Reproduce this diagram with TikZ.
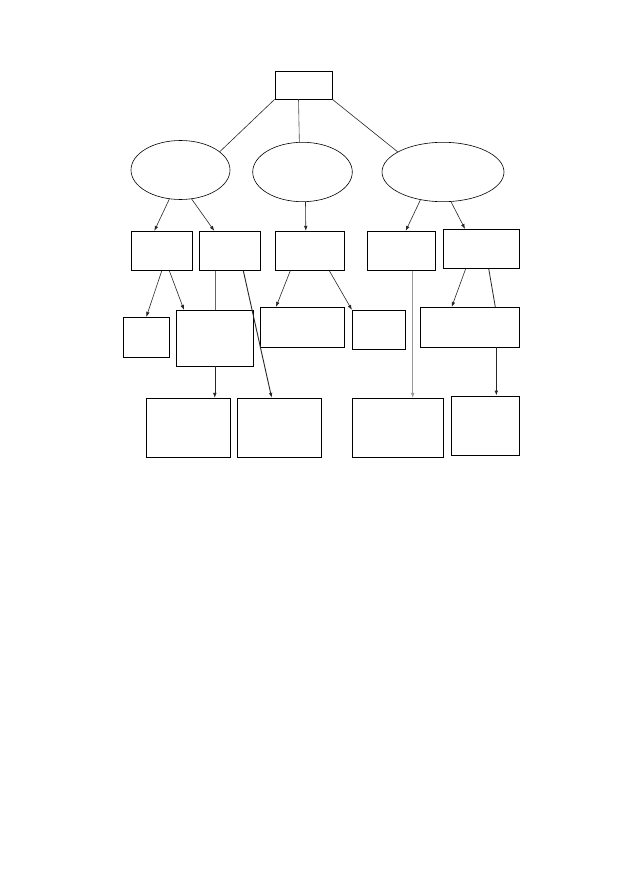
\documentclass[tikz,border=0pt]{standalone}
\usepackage{tikz}
\usetikzlibrary{calc}
\usetikzlibrary{shapes.geometric}
\usetikzlibrary{positioning}
\usetikzlibrary{arrows.meta}

\begin{document}
\begin{tikzpicture}[x=1pt,y=-1pt,
	box/.style={draw,line width=0.8pt,rectangle,inner sep=0pt},
	blob/.style={draw,line width=0.6pt,ellipse,inner sep=0pt},
	link/.style={line width=0.6pt,black!85},
	arr/.style={-{Latex[length=5pt,width=3.6pt]},line width=0.6pt,black!85}]
	\useasboundingbox (0,0) rectangle (629,893);
	% top
	\node[box,minimum width=57pt,minimum height=28pt] (top) at (303.5,85) {};
	% ellipses
	\node[blob,minimum width=99pt,minimum height=59pt] (E1) at (180.5,170) {};
	\node[blob,minimum width=99.6pt,minimum height=59.4pt] (E2) at (302.5,172) {};
	\node[blob,minimum width=122pt,minimum height=59.4pt] (E3) at (443,172) {};
	% second row
	\node[box,minimum width=61pt,minimum height=39pt] (B1) at (161.8,250.8) {};
	\node[box,minimum width=61pt,minimum height=39pt] (B2) at (229.8,250.8) {};
	\node[box,minimum width=69pt,minimum height=39pt] (B3) at (309.8,250.8) {};
	\node[box,minimum width=68pt,minimum height=39pt] (B4) at (401.3,250.8) {};
	\node[box,minimum width=75.7pt,minimum height=39pt] (B5) at (481.2,248.8) {};
	% third row
	\node[box,minimum width=46pt,minimum height=39.7pt] (C1) at (146.3,337.2) {};
	\node[box,minimum width=77pt,minimum height=55.7pt] (C2) at (214.8,338.2) {};
	\node[box,minimum width=84pt,minimum height=39.7pt] (C3) at (302.3,327.2) {};
	\node[box,minimum width=53pt,minimum height=39pt] (C4) at (378.8,329.8) {};
	\node[box,minimum width=98.3pt,minimum height=39.7pt] (C5) at (469.8,327.2) {};
	% bottom row
	\node[box,minimum width=84pt,minimum height=59pt] (D1) at (188.3,427.8) {};
	\node[box,minimum width=84pt,minimum height=59pt] (D2) at (279.3,427.8) {};
	\node[box,minimum width=91pt,minimum height=59pt] (D3) at (397.8,427.8) {};
	\node[box,minimum width=68.3pt,minimum height=59.3pt] (D4) at (485.2,425.7) {};
	% helper points
	\coordinate (b4out) at ([xshift=11.4pt]B4.south);
	\coordinate (c5out) at ([xshift=26.5pt]C5.south);
	% top links
	\draw[link] (top.south west) -- (E1.25);
	\draw[link,black!70] ([xshift=-5pt]top.south) -- (E2.96);
	\draw[link] (top.south east) -- (E3.156);
	% from ellipses
	\draw[arr] (E1.249) -- ([xshift=-7.5pt]B1.north);
	\draw[arr] (E1.291) -- ([xshift=-15.5pt]B2.north);
	\draw[arr] ([xshift=3pt]E2.south) -- ([xshift=-4pt]B3.north);
	\draw[arr] (E3.231) -- ([xshift=4.4pt]B4.north);
	\draw[arr] (E3.285) -- ([xshift=-16.2pt]B5.north);
	% from second row
	\draw[arr] (B1.south) -- (C1.north);
	\draw[arr] ([xshift=7.5pt]B1.south) -- ([xshift=-30.8pt]C2.north);
	\draw[link,black!60] ([xshift=-15pt]B2.south) -- (C2.north);
	\draw[arr,line width=0.9pt] ([xshift=13.5pt]B2.south) -- ([xshift=-7.6pt]D2.north);
	\draw[arr] ([xshift=-19.5pt]B3.south) -- ([xshift=-26.3pt]C3.north);
	\draw[arr] ([xshift=19.5pt]B3.south) -- (C4.north west);
	\draw[arr,black!40] (b4out) -- (b4out |- D3.north);
	\draw[arr] ([xshift=-15.5pt]B5.south) -- ([xshift=-18.1pt]C5.north);
	\draw[link,line width=0.8pt] ([xshift=7.5pt]B5.south) -- ([xshift=25.5pt]C5.north);
	% from third row
	\draw[arr] (C2.south) -- (C2.south |- D1.north);
	\draw[arr,line width=0.9pt] (c5out) -- (c5out |- D4.north);
\end{tikzpicture}
\end{document}
